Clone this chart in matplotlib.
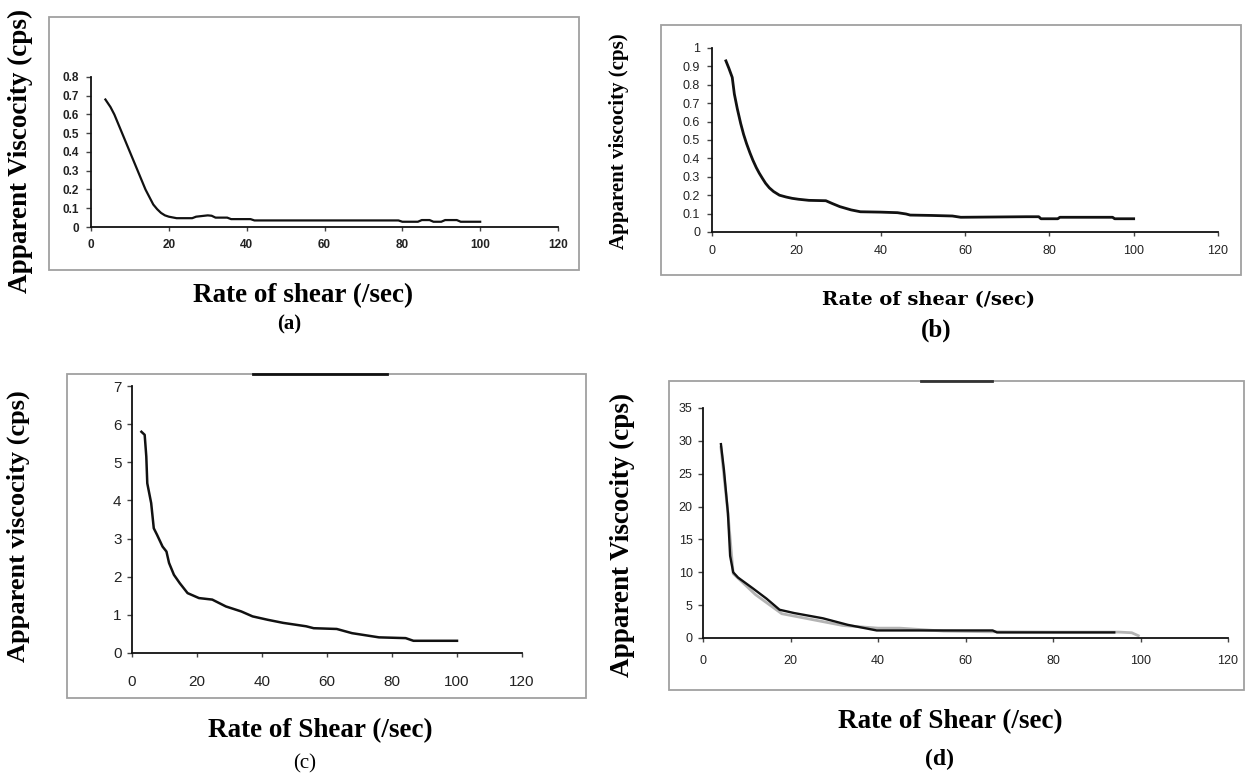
import matplotlib
matplotlib.use("Agg")
import matplotlib.pyplot as plt
from matplotlib.patches import Rectangle
from matplotlib.lines import Line2D

# ---------------- data ----------------
xticks = [0, 20, 40, 60, 80, 100, 120]

a_x = [3.7, 5, 6, 7, 8, 9, 10, 11, 12, 13, 14, 15, 16, 17, 18, 19, 20, 22, 26, 27, 30, 31, 32, 35, 36,
       41, 42, 79, 80, 84, 85, 87, 88, 90, 91, 94, 95, 100]
a_y = [0.68, 0.64, 0.60, 0.55, 0.50, 0.45, 0.40, 0.35, 0.30, 0.25, 0.20, 0.16, 0.12, 0.095, 0.075, 0.062,
       0.055, 0.047, 0.047, 0.055, 0.062, 0.06, 0.05, 0.05, 0.042, 0.042, 0.035, 0.035, 0.028, 0.028,
       0.037, 0.037, 0.028, 0.028, 0.037, 0.037, 0.028, 0.028]
a_yticks = [0, 0.1, 0.2, 0.3, 0.4, 0.5, 0.6, 0.7, 0.8]

b_x = [3.3, 4.0, 4.8, 5.3, 6.0, 6.8, 7.5, 8.2, 9.0, 9.7, 10.5, 11.2, 12.0, 12.7, 13.6, 14.6, 16, 17.6, 19,
       20.5, 23, 27, 28.5, 30.3, 33, 35.2, 40, 44, 46, 47, 52, 57, 59, 74.5, 77.5, 78, 82, 82.5, 95, 95.5, 100]
b_y = [0.93, 0.89, 0.84, 0.75, 0.67, 0.59, 0.53, 0.48, 0.43, 0.39, 0.35, 0.32, 0.29, 0.265, 0.24, 0.22, 0.20,
       0.19, 0.183, 0.178, 0.172, 0.17, 0.155, 0.138, 0.12, 0.11, 0.108, 0.105, 0.098, 0.092, 0.09, 0.087,
       0.08, 0.083, 0.083, 0.072, 0.072, 0.08, 0.08, 0.072, 0.072]
b_yticks = [0, 0.1, 0.2, 0.3, 0.4, 0.5, 0.6, 0.7, 0.8, 0.9, 1]

c_x = [2.9, 3.9, 4.4, 4.7, 5.9, 6.7, 7.7, 9.4, 10.6, 11.4, 12.9, 14.7, 17.1, 20.6, 24.7, 28.9, 33.6, 37.1,
       41.8, 46.5, 53.6, 55.9, 63, 67.7, 76, 84.2, 86.6, 100]
c_y = [5.8, 5.72, 5.15, 4.45, 3.93, 3.27, 3.10, 2.79, 2.66, 2.36, 2.05, 1.83, 1.57, 1.44, 1.40, 1.22, 1.09,
       0.96, 0.87, 0.79, 0.70, 0.65, 0.63, 0.52, 0.41, 0.39, 0.32, 0.32]
c_yticks = [0, 1, 2, 3, 4, 5, 6, 7]

d_x = [4.1, 4.8, 5.7, 6.2, 6.9, 8.0, 11.3, 14.5, 17.5, 20.8, 27.4, 33.1, 39.7, 66.2, 67.2, 94]
d_y = [29.5, 25.5, 19.0, 12.5, 10.0, 9.2, 7.6, 6.0, 4.3, 3.8, 3.0, 2.0, 1.15, 1.15, 0.85, 0.85]
d2_x = [4.1, 5.7, 6.9, 8.5, 12, 18, 25, 32, 40, 45, 55, 65, 80, 95, 98, 99.5]
d2_y = [29.0, 19.0, 9.8, 8.8, 6.6, 3.7, 2.8, 1.9, 1.5, 1.5, 1.05, 0.95, 0.9, 0.9, 0.8, 0.35]
d_yticks = [0, 5, 10, 15, 20, 25, 30, 35]

# ---------------- layout helpers ----------------
W, H = 1249, 781
fig = plt.figure(figsize=(W / 100, H / 100), dpi=100)
fig.patch.set_facecolor("white")

def rect(l, r, t, b):
    return [l / W, 1 - b / H, (r - l) / W, (b - t) / H]

def ftext(x, y, s, **kw):
    fig.text(x / W, 1 - y / H, s, ha="center", va="center", **kw)

def frame(l, r, t, b):
    fig.patches.append(Rectangle((l / W, 1 - b / H), (r - l) / W, (b - t) / H,
                                 transform=fig.transFigure, fill=False,
                                 edgecolor="#a0a0a0", linewidth=1.3))

def make_ax(r, ymax, yticks, ylabels, tsize, tweight, ypad, xpad):
    ax = fig.add_axes(rect(*r))
    ax.set_facecolor("none")
    ax.set_xlim(0, 120)
    ax.set_ylim(0, ymax)
    ax.set_xticks(xticks)
    ax.set_yticks(yticks)
    ax.set_yticklabels(ylabels)
    for s in ("top", "right"):
        ax.spines[s].set_visible(False)
    for s in ("left", "bottom"):
        ax.spines[s].set_linewidth(1.3)
        ax.spines[s].set_color("#111111")
    ax.tick_params(axis="y", direction="out", length=3.5, width=1, color="#444444", pad=ypad)
    ax.tick_params(axis="x", direction="out", length=3, width=1, color="#444444", pad=xpad)
    for lab in ax.get_xticklabels() + ax.get_yticklabels():
        lab.set_family("Liberation Sans")
        lab.set_fontsize(tsize)
        lab.set_fontweight(tweight)
        lab.set_color("#222222")
    return ax

serif = "Liberation Serif"

# ---------------- (a) ----------------
frame(49, 579, 17, 270)
axa = make_ax((91, 558, 77, 227), 0.8, a_yticks, ["0", "0.1", "0.2", "0.3", "0.4", "0.5", "0.6", "0.7", "0.8"],
              8.5, "bold", 5, 6)
axa.plot(a_x, a_y, color="#111111", linewidth=1.6)
ftext(20, 151, "Apparent Viscocity (cps)", rotation=90, family=serif, fontweight="bold", fontsize=19.5)
ftext(303, 296, "Rate of shear (/sec)", family=serif, fontweight="bold", fontsize=19.5)
ftext(289, 324, "(a)", family=serif, fontweight="bold", fontsize=15)

# ---------------- (b) ----------------
frame(661, 1241, 25, 275)
axb = make_ax((712, 1218, 48, 232), 1, b_yticks, ["0", "0.1", "0.2", "0.3", "0.4", "0.5", "0.6", "0.7", "0.8",
                                                  "0.9", "1"], 9, "normal", 5, 6)
axb.plot(b_x, b_y, color="#111111", linewidth=2.0)
ftext(619, 141, "Apparent viscocity (cps)", rotation=90, family=serif, fontweight="bold", fontsize=15)
ftext(929, 300, "Rate of shear (/sec)", family="DejaVu Serif", fontweight="bold", fontsize=14)
ftext(936, 330, "(b)", family=serif, fontweight="bold", fontsize=18)

# ---------------- (c) ----------------
frame(67, 586, 374, 698)
axc = make_ax((132, 522, 386, 653), 7, c_yticks, [str(v) for v in c_yticks], 11, "normal", 4, 13)
axc.plot(c_x, c_y, color="#111111", linewidth=1.8)
fig.add_artist(Line2D([253 / W, 387 / W], [1 - 374 / H, 1 - 374 / H], transform=fig.transFigure,
                      color="#111111", linewidth=2))
ftext(18, 526, "Apparent viscocity (cps)", rotation=90, family=serif, fontweight="bold", fontsize=19)
ftext(320, 731, "Rate of Shear (/sec)", family=serif, fontweight="bold", fontsize=19.5)
ftext(305, 764, "(c)", family=serif, fontsize=15)

# ---------------- (d) ----------------
frame(669, 1244, 381, 690)
axd = make_ax((703, 1228, 408, 638), 35, d_yticks, [str(v) for v in d_yticks], 9, "normal", 4, 9)
axd.plot(d2_x, d2_y, color="#b4b4b4", linewidth=2.0)
axd.plot(d_x, d_y, color="#111111", linewidth=1.7)
fig.add_artist(Line2D([921 / W, 992 / W], [1 - 381 / H, 1 - 381 / H], transform=fig.transFigure,
                      color="#333333", linewidth=2))
ftext(622, 535, "Apparent Viscocity (cps)", rotation=90, family=serif, fontweight="bold", fontsize=19.5)
ftext(950, 722, "Rate of Shear (/sec)", family=serif, fontweight="bold", fontsize=19.5)
ftext(940, 759, "(d)", family=serif, fontweight="bold", fontsize=17)

fig.savefig("out.png", dpi=100, facecolor="white")
